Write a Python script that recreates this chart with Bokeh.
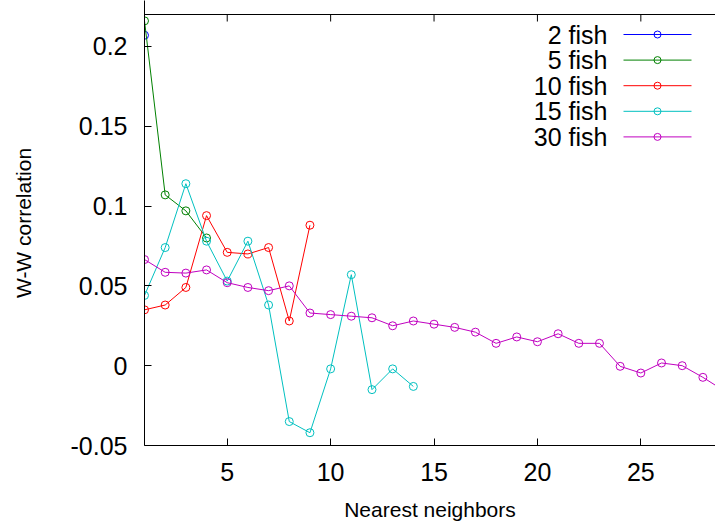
from bokeh.plotting import figure
from bokeh.models import Range1d, FixedTicker, CustomJSTickFormatter
from bokeh.core.properties import value
from bokeh.embed import file_html
from bokeh.resources import INLINE

# ---------------- data ----------------
series_labels = ["2 fish", "5 fish", "10 fish", "15 fish", "30 fish"]
series_colors = ["#0000ff", "#008000", "#ff0000", "#00c0c0", "#c000c0"]

neighbors_2 = [1]
wwcorr_2 = [0.207]

neighbors_5 = [1, 2, 3, 4]
wwcorr_5 = [0.216, 0.107, 0.097, 0.080]

neighbors_10 = [1, 2, 3, 4, 5, 6, 7, 8, 9]
wwcorr_10 = [0.035, 0.038, 0.049, 0.094, 0.071, 0.070, 0.074, 0.028, 0.088]

neighbors_15 = [1, 2, 3, 4, 5, 6, 7, 8, 9, 10, 11, 12, 13, 14]
wwcorr_15 = [0.044, 0.074, 0.114, 0.078, 0.053, 0.078, 0.038, -0.035, -0.042,
             -0.002, 0.057, -0.015, -0.002, -0.013]

neighbors_30 = list(range(1, 30))
wwcorr_30 = [0.0665, 0.0585, 0.058, 0.060, 0.052, 0.049, 0.047, 0.050, 0.033,
             0.032, 0.031, 0.030, 0.025, 0.028, 0.026, 0.024, 0.021, 0.014,
             0.018, 0.015, 0.020, 0.014, 0.014, -0.0004, -0.0046, 0.0017,
             0.0, -0.0073, -0.0155]

x_ticks = [5, 10, 15, 20, 25]
y_ticks = [-0.05, 0, 0.05, 0.1, 0.15, 0.2]

x_label = "Nearest neighbors"
y_label = "W-W correlation"

series = [
    (neighbors_2, wwcorr_2),
    (neighbors_5, wwcorr_5),
    (neighbors_10, wwcorr_10),
    (neighbors_15, wwcorr_15),
    (neighbors_30, wwcorr_30),
]

# ---------------- layout ----------------
FONT = "Liberation Sans"
W, H = 715, 524
BL, BR = 144, 0
PLOT_TOP_PX = 14           # where the gnuplot-style top border sits
PLOT_BOTTOM_PX = 445
BT = 0                     # frame starts at the top of the canvas
FRAME_H = PLOT_BOTTOM_PX - BT
BB = H - PLOT_BOTTOM_PX
X0, X1 = 1, 28.61
Y0, YTOP = -0.05, 0.22     # visible plot box in data units
PX_PER_Y = (PLOT_BOTTOM_PX - PLOT_TOP_PX) / (YTOP - Y0)
Y1 = YTOP + (PLOT_TOP_PX - BT) / PX_PER_Y
TICK_PX = 7

p = figure(width=W, height=H, x_range=Range1d(X0, X1), y_range=Range1d(Y0, Y1),
           output_backend="svg", toolbar_location=None,
           min_border_left=BL, min_border_right=BR, min_border_top=BT,
           min_border_bottom=BB)
p.title.visible = False
p.outline_line_color = None
p.xgrid.visible = False
p.ygrid.visible = False

xa = p.xaxis[0]
xa.ticker = FixedTicker(ticks=x_ticks)
xa.major_tick_in = TICK_PX
xa.major_tick_out = 0
xa.minor_tick_in = 0
xa.minor_tick_out = 0
xa.major_label_text_font = FONT
xa.major_label_text_font_size = "25px"
xa.major_label_text_color = "black"
xa.major_label_standoff = 17
xa.axis_line_color = "black"
xa.major_tick_line_color = "black"
xa.axis_label = x_label
xa.axis_label_text_font = FONT
xa.axis_label_text_font_size = "21px"
xa.axis_label_text_font_style = "normal"
xa.axis_label_text_color = "black"
xa.axis_label_standoff = 14

ya = p.yaxis[0]
ya.ticker = FixedTicker(ticks=y_ticks)
ya.formatter = CustomJSTickFormatter(code="""
let s = tick.toFixed(2);
s = s.replace(/0+$/, '').replace(/\\.$/, '');
if (s == '-0') { s = '0'; }
return s;
""")
ya.major_tick_in = TICK_PX
ya.major_tick_out = 0
ya.minor_tick_in = 0
ya.minor_tick_out = 0
ya.major_label_text_font = FONT
ya.major_label_text_font_size = "25px"
ya.major_label_text_color = "black"
ya.major_label_standoff = 17
ya.axis_line_color = "black"
ya.major_tick_line_color = "black"
ya.axis_label = y_label
ya.axis_label_text_font = FONT
ya.axis_label_text_font_size = "21px"
ya.axis_label_text_font_style = "normal"
ya.axis_label_text_color = "black"
ya.axis_label_standoff = 33

# hide the part of the left axis above the plot box
p.quad(left=[X0], right=[X0 + 2 / PX_PER_Y * 0], bottom=[YTOP], top=[Y1],
       fill_color=None, line_color=None)

# top border with mirrored ticks (gnuplot style)
p.line([X0, X1], [YTOP, YTOP], line_color="black", line_width=1.2)
p.segment(x0=x_ticks, y0=[YTOP] * len(x_ticks), x1=x_ticks,
          y1=[YTOP - TICK_PX / PX_PER_Y] * len(x_ticks),
          line_color="black", line_width=1)

for (xs, ys), color in zip(series, series_colors):
    p.line(xs, ys, line_color=color, line_width=1)
    p.scatter(xs, ys, marker="circle", size=8, fill_color=None,
              line_color=color, line_width=1)

# helpers: page pixel -> data coordinate (for legend placement)
FW = W - BL - BR


def dx(px):
    return X0 + (px - BL) * (X1 - X0) / FW


def dy(py):
    return YTOP - (py - PLOT_TOP_PX) / PX_PER_Y


# legend (text left of sample, like gnuplot)
LEG_TEXT_RIGHT, LEG_L0, LEG_L1, LEG_M = 607, 623, 691, 657
LEG_ROW0, LEG_STEP = 34, 25.6
for i, (lab, color) in enumerate(zip(series_labels, series_colors)):
    yy = dy(LEG_ROW0 + i * LEG_STEP)
    p.text(x=[dx(LEG_TEXT_RIGHT)], y=[yy], text=[lab],
           text_align="right", text_baseline="middle",
           text_font=value(FONT), text_font_size="25px", text_color="black")
    p.line([dx(LEG_L0), dx(LEG_L1)], [yy, yy], line_color=color, line_width=1)
    p.scatter([dx(LEG_M)], [yy], marker="circle", size=7, fill_color=None,
              line_color=color, line_width=1)

open("out.html", "w").write(file_html(p, INLINE))
